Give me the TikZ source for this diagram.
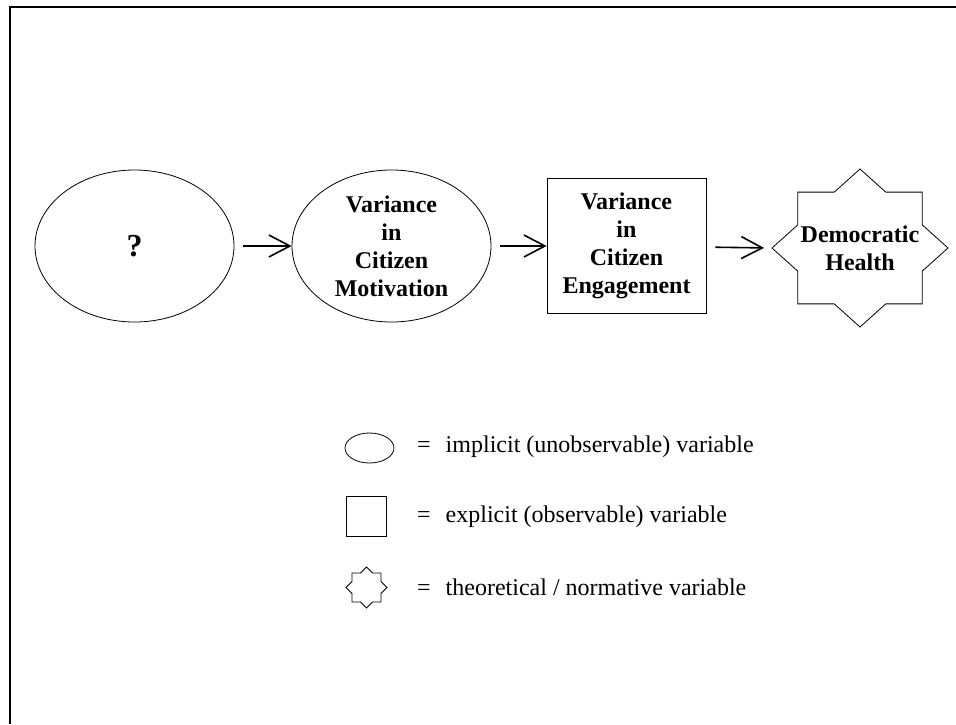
\documentclass[tikz,border=0pt]{standalone}
\usepackage{fontspec}
\setmainfont{Liberation Serif}
\usetikzlibrary{arrows.meta,shapes.geometric}
\newcommand{\octagram}[3]{%
  \draw[outline, shift={#1}, xscale=#2, yscale=#3]
    (0:1) \foreach \k in {1,...,15} {-- (\k*22.5:{1-0.2346*mod(\k,2)})} -- cycle;}
\tikzset{
  outline/.style={line width=0.8pt},
  implicit/.style={ellipse, draw, outline, inner sep=0pt, minimum width=199pt, minimum height=152pt,
    align=center, font=\fontsize{24}{28}\selectfont\bfseries},
  explicit/.style={rectangle, draw, outline, inner sep=0pt, minimum width=159pt, minimum height=135pt,
    align=center, font=\fontsize{24}{28}\selectfont\bfseries},
  normative/.style={inner sep=0pt, align=center, font=\fontsize{24}{28}\selectfont\bfseries},
  causes/.style={-{Straight Barb[length=21pt,width=22pt]}, line width=1.6pt, shorten <=9pt},
  keytext/.style={anchor=west, inner sep=0pt, font=\fontsize{24}{28}\selectfont}
}
\begin{document}
\begin{tikzpicture}[x=1pt, y=-1pt]
        \useasboundingbox (0,0) rectangle (956,724);
        \draw[line width=2pt] (10,724) -- (10,7) -- (956,7);
        % causal chain
        \node[implicit, font=\fontsize{32}{32}\selectfont\bfseries] (cause) at (134.5,246) {?};
        \node[implicit] (motivation) at (391.5,246) {Variance\\in\\Citizen\\Motivation};
        \node[explicit] (engagement) at (626.5,246) {Variance\\in\\Citizen\\Engagement};
        \node[normative] (health) at (860,248) {Democratic\\Health};
        \octagram{(health.center)}{88}{79}
        \coordinate (health-tip) at (772,248);
        \draw[causes] (cause) -- (motivation);
        \draw[causes] (motivation) -- (engagement);
        \draw[causes, shorten >=8pt] (engagement) -- (health-tip);
        % key
        \node[implicit, minimum width=49pt, minimum height=30pt] (keyimplicit) at (369.5,448) {};
        \node[explicit, minimum width=40pt, minimum height=40pt] (keyexplicit) at (366,516) {};
        \coordinate (keynormative) at (366.5,587.5);
        \octagram{(keynormative)}{20.5}{20.5}
        \node[keytext] (implicittext) at (417,447) {=\hspace{15pt}implicit (unobservable) variable};
        \node[keytext] (explicittext) at (417,517) {=\hspace{15pt}explicit (observable) variable};
        \node[keytext] (normativetext) at (417,587) {=\hspace{15pt}theoretical / normative variable};
    \end{tikzpicture}
\end{document}
